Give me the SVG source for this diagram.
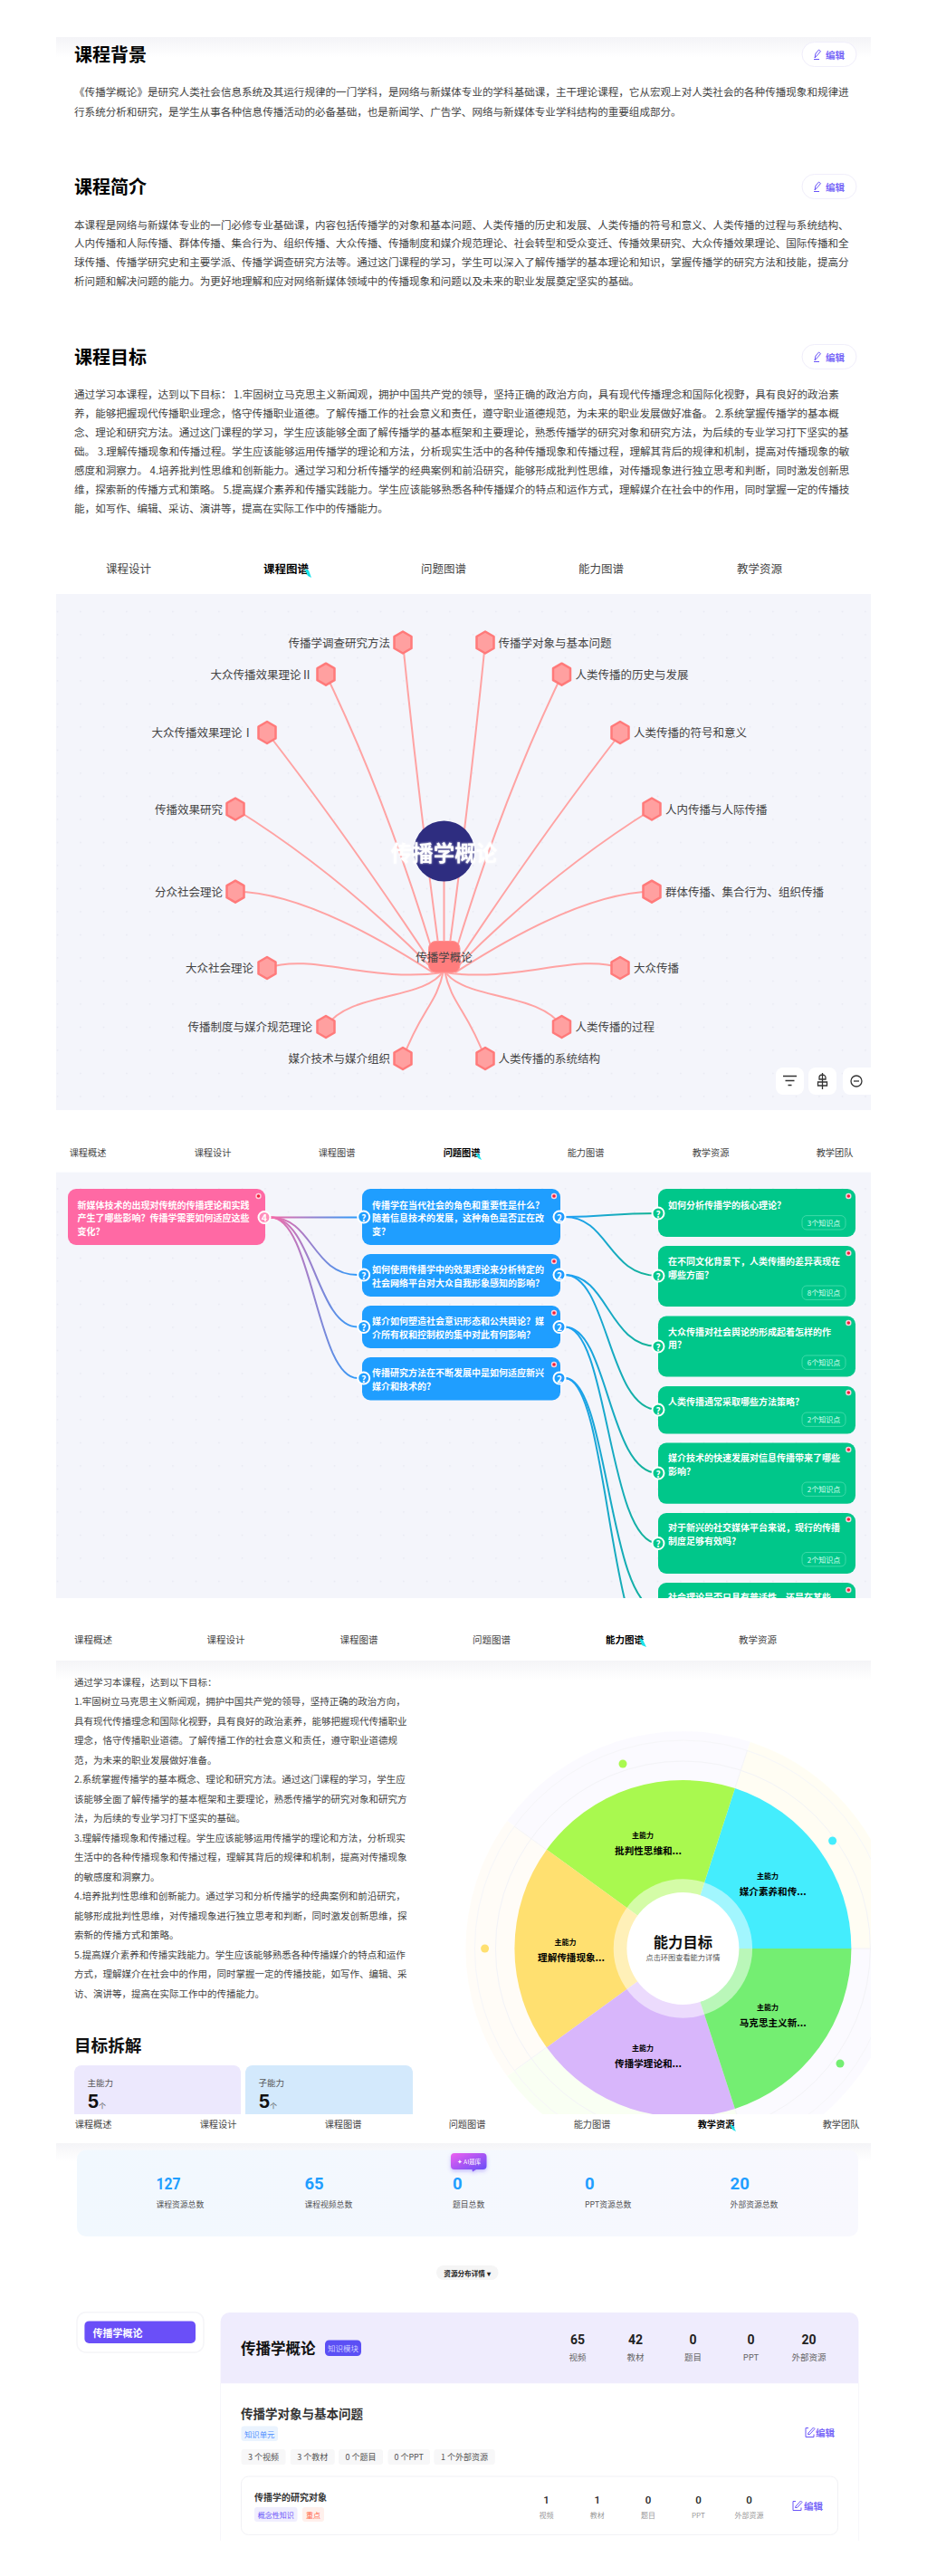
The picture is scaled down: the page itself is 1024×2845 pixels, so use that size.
<svg xmlns="http://www.w3.org/2000/svg" width="1024" height="2845" viewBox="0 0 1024 2845">
<style>
text{font-family:"Noto Sans CJK SC","Noto Sans",sans-serif;dominant-baseline:central;fill:#333}
.h{font-size:20px;font-weight:700;fill:#000}
.p{font-size:11.57px;fill:#444}
.q{font-size:10.5px;fill:#444}
.t1{font-size:12.5px;fill:#444;text-anchor:middle}
.t2{font-size:10.2px;fill:#444;text-anchor:middle}
.on{font-weight:700;fill:#000}
.ed{font-size:10.5px;font-weight:700;fill:#7a6af8}
.gl{font-size:12.5px;fill:#444}
.r{text-anchor:end}
.m{text-anchor:middle}
.n{font-size:10px;font-weight:700;fill:#fff}
.g{font-size:10px;font-weight:700;fill:#fff;text-anchor:middle}
.kp{font-size:8px;fill:#d9fff0;text-anchor:middle}
.ln{fill:none;stroke:#ffa3a3;stroke-width:2}
.lb{fill:none;stroke:url(#bg);stroke-width:2}
.lp{fill:none;stroke:url(#pb);stroke-width:2}
.sl{font-size:8px;font-weight:700;fill:#000;text-anchor:middle}
.sn{font-size:10.6px;font-weight:700;fill:#000;text-anchor:middle}
.sb{font-family:Roboto,"Noto Sans",sans-serif;font-size:18.5px;font-weight:700;fill:#1f9eff}
.sc{font-size:8.8px;fill:#555}
.st{font-family:Roboto,"Noto Sans",sans-serif;font-size:14px;font-weight:700;fill:#222;text-anchor:middle}
.sd{font-size:9.5px;fill:#666;text-anchor:middle}
.st2{font-family:Roboto,"Noto Sans",sans-serif;font-size:11.5px;font-weight:500;fill:#222;text-anchor:middle}
.sd2{font-size:8px;fill:#999;text-anchor:middle}
.ch{font-size:9px;fill:#555;text-anchor:middle}
.i{fill:none;stroke:#333;stroke-width:1.3}
.e{fill:none;stroke:#6a55f8;stroke-width:1}
</style>
<defs>
<pattern id="dots" width="25.5" height="25.5" patternUnits="userSpaceOnUse" x="0" y="0"><circle cx="12.5" cy="12.5" r="0.8" fill="#e2e4ee"/></pattern>
<linearGradient id="fade" x1="0" y1="0" x2="0" y2="1"><stop offset="0" stop-color="#f4f4f7"/><stop offset="1" stop-color="#fff"/></linearGradient>
<linearGradient id="bg" gradientUnits="userSpaceOnUse" x1="620" y1="0" x2="727" y2="0"><stop offset="0" stop-color="#1f9eff"/><stop offset="1" stop-color="#10b58c"/></linearGradient>
<linearGradient id="pb" gradientUnits="userSpaceOnUse" x1="295" y1="0" x2="401" y2="0"><stop offset="0" stop-color="#ff69a4"/><stop offset="1" stop-color="#1f9eff"/></linearGradient>
<linearGradient id="stat" x1="0" y1="0" x2="1" y2="0"><stop offset="0" stop-color="#f1f8fe"/><stop offset="1" stop-color="#f8f8fe"/></linearGradient>
<linearGradient id="ai" x1="0" y1="0" x2="1" y2="1"><stop offset="0" stop-color="#ee5ff0"/><stop offset="1" stop-color="#5f4df8"/></linearGradient>
<polygon id="hex" points="0,-12 9.5,-6.5 9.5,6.5 0,12 -9.5,6.5 -9.5,-6.5" fill="#ffa0a0" stroke="#ff7a7a" stroke-width="2.5" stroke-linejoin="round"/>
<clipPath id="map"><rect x="62" y="1294.4" width="900" height="470.6"/></clipPath>
<clipPath id="wh"><rect x="62" y="1834" width="900" height="501"/></clipPath>
<clipPath id="bot"><rect x="243" y="2632" width="706" height="174"/></clipPath>
<filter id="soft" x="-30%" y="-30%" width="160%" height="180%"><feDropShadow dx="0" dy="2" stdDeviation="2" flood-color="#6a4cf8" flood-opacity=".35"/></filter>
<filter id="sh" x="-20%" y="-40%" width="140%" height="180%"><feDropShadow dx="0" dy="0" stdDeviation="1.2" flood-color="#fff" flood-opacity=".9"/></filter>
</defs>
<rect width="1024" height="2845" fill="#fff"/>

<g id="section-overview">
<rect x="62" y="41" width="900" height="22" fill="url(#fade)"/>
<g id="bg-title"><text class="h" x="82" y="59.5">课程背景</text>
<rect x="886" y="46.5" width="60" height="27" rx="13.5" fill="#fff" stroke="#f0eefb"/><path class="e" d="M899 65.5h6M900 64l1-5 3.5-4 2 1.6-3.5 4.2z"/><text class="ed" x="912" y="60">编辑</text></g>
<text class="p" x="82" y="101">《传播学概论》是研究人类社会信息系统及其运行规律的一门学科，是网络与新媒体专业的学科基础课，主干理论课程，它从宏观上对人类社会的各种传播现象和规律进</text>
<text class="p" x="82" y="122.5">行系统分析和研究，是学生从事各种信息传播活动的必备基础，也是新闻学、广告学、网络与新媒体专业学科结构的重要组成部分。</text>
<g id="intro-title"><text class="h" x="82" y="205.5">课程简介</text>
<rect x="886" y="192.5" width="60" height="27" rx="13.5" fill="#fff" stroke="#f0eefb"/><path class="e" d="M899 211.5h6M900 210l1-5 3.5-4 2 1.6-3.5 4.2z"/><text class="ed" x="912" y="206">编辑</text></g>
<text class="p" x="82" y="247.6">本课程是网络与新媒体专业的一门必修专业基础课，内容包括传播学的对象和基本问题、人类传播的历史和发展、人类传播的符号和意义、人类传播的过程与系统结构、</text>
<text class="p" x="82" y="268.4">人内传播和人际传播、群体传播、集合行为、组织传播、大众传播、传播制度和媒介规范理论、社会转型和受众变迁、传播效果研究、大众传播效果理论、国际传播和全</text>
<text class="p" x="82" y="289.3">球传播、传播学研究史和主要学派、传播学调查研究方法等。通过这门课程的学习，学生可以深入了解传播学的基本理论和知识，掌握传播学的研究方法和技能，提高分</text>
<text class="p" x="82" y="310.2">析问题和解决问题的能力。为更好地理解和应对网络新媒体领域中的传播现象和问题以及未来的职业发展奠定坚实的基础。</text>
<g id="goal-title"><text class="h" x="82" y="393.7">课程目标</text>
<rect x="886" y="380.5" width="60" height="27" rx="13.5" fill="#fff" stroke="#f0eefb"/><path class="e" d="M899 399.5h6M900 398l1-5 3.5-4 2 1.6-3.5 4.2z"/><text class="ed" x="912" y="394">编辑</text></g>
<text class="p" x="82" y="435.4">通过学习本课程，达到以下目标： 1.牢固树立马克思主义新闻观，拥护中国共产党的领导，坚持正确的政治方向，具有现代传播理念和国际化视野，具有良好的政治素</text>
<text class="p" x="82" y="456.3">养，能够把握现代传播职业理念，恪守传播职业道德。了解传播工作的社会意义和责任，遵守职业道德规范，为未来的职业发展做好准备。 2.系统掌握传播学的基本概</text>
<text class="p" x="82" y="477.2">念、理论和研究方法。通过这门课程的学习，学生应该能够全面了解传播学的基本框架和主要理论，熟悉传播学的研究对象和研究方法，为后续的专业学习打下坚实的基</text>
<text class="p" x="82" y="498">础。 3.理解传播现象和传播过程。学生应该能够运用传播学的理论和方法，分析现实生活中的各种传播现象和传播过程，理解其背后的规律和机制，提高对传播现象的敏</text>
<text class="p" x="82" y="519">感度和洞察力。 4.培养批判性思维和创新能力。通过学习和分析传播学的经典案例和前沿研究，能够形成批判性思维，对传播现象进行独立思考和判断，同时激发创新思</text>
<text class="p" x="82" y="540">维，探索新的传播方式和策略。 5.提高媒介素养和传播实践能力。学生应该能够熟悉各种传播媒介的特点和运作方式，理解媒介在社会中的作用，同时掌握一定的传播技</text>
<text class="p" x="82" y="560.8">能，如写作、编辑、采访、演讲等，提高在实际工作中的传播能力。</text>
</g>

<g id="tabs-1">
<text class="t1" x="142" y="627">课程设计</text><text class="t1 on" x="316" y="627">课程图谱</text><text class="t1" x="490" y="627">问题图谱</text><text class="t1" x="664" y="627">能力图谱</text><text class="t1" x="839" y="627">教学资源</text>
<polygon points="336,628 341,630 344,638 340,636" fill="#19e3ea"/>
</g>

<g id="course-graph">
<rect x="62" y="656" width="900" height="570" fill="#f4f5fb"/>
<rect x="62" y="656" width="900" height="570" fill="url(#dots)"/>
<g id="graph-connectors">
<path class="ln" d="M445 709.5Q462 880 488 1072"/>
<path class="ln" d="M360 744.7Q430 890 484 1072"/>
<path class="ln" d="M295 809Q385 925 482 1072"/>
<path class="ln" d="M260 893.5Q375 965 480 1072"/>
<path class="ln" d="M260 984.7Q340 985 478 1074"/>
<path class="ln" d="M295 1069C345 1052 410 1086 490 1074"/>
<path class="ln" d="M360 1134C385 1095 470 1105 490 1072"/>
<path class="ln" d="M445 1169C465 1115 482 1110 490 1072"/>
<path class="ln" d="M536 709.5Q519 880 493 1072"/>
<path class="ln" d="M621 744.7Q551 890 497 1072"/>
<path class="ln" d="M686 809Q596 925 499 1072"/>
<path class="ln" d="M721 893.5Q606 965 501 1072"/>
<path class="ln" d="M721 984.7Q641 985 503 1074"/>
<path class="ln" d="M686 1069C636 1052 571 1086 491 1074"/>
<path class="ln" d="M621 1134C596 1095 511 1105 491 1072"/>
<path class="ln" d="M536 1169C516 1115 499 1110 491 1072"/>
<path class="ln" d="M490.5 973V1040"/>
</g>
<g id="root-center"><ellipse cx="490.5" cy="940" rx="33.5" ry="33.5" fill="#2e2d80"/><text x="490.5" y="941" font-size="23.5" font-weight="700" text-anchor="middle" style="fill:#fff" filter="url(#sh)">传播学概论</text></g>
<g id="root-course"><rect x="473.5" y="1039.5" width="34.5" height="34.5" rx="8" fill="#ff7d7d" stroke="#ff9090"/><text class="gl m" x="490.5" y="1056">传播学概论</text></g>
<g id="n1"><use href="#hex" x="445" y="709.5"/><text class="gl r" x="431" y="709">传播学调查研究方法</text></g>
<g id="n2"><use href="#hex" x="536" y="709.5"/><text class="gl" x="550.5" y="709">传播学对象与基本问题</text></g>
<g id="n3"><use href="#hex" x="360" y="744.7"/><text class="gl r" x="345" y="744.5">大众传播效果理论Ⅱ</text></g>
<g id="n4"><use href="#hex" x="620.5" y="744.7"/><text class="gl" x="635.5" y="744.5">人类传播的历史与发展</text></g>
<g id="n5"><use href="#hex" x="295" y="809"/><text class="gl r" x="280" y="808.5">大众传播效果理论Ⅰ</text></g>
<g id="n6"><use href="#hex" x="685" y="809"/><text class="gl" x="700" y="808.5">人类传播的符号和意义</text></g>
<g id="n7"><use href="#hex" x="260" y="893.5"/><text class="gl r" x="246" y="893">传播效果研究</text></g>
<g id="n8"><use href="#hex" x="720" y="893.5"/><text class="gl" x="735" y="893">人内传播与人际传播</text></g>
<g id="n9"><use href="#hex" x="260" y="984.7"/><text class="gl r" x="246" y="984.5">分众社会理论</text></g>
<g id="n10"><use href="#hex" x="720" y="984.7"/><text class="gl" x="735" y="984.5">群体传播、集合行为、组织传播</text></g>
<g id="n11"><use href="#hex" x="295" y="1069"/><text class="gl r" x="280" y="1068.5">大众社会理论</text></g>
<g id="n12"><use href="#hex" x="685" y="1069"/><text class="gl" x="700" y="1068.5">大众传播</text></g>
<g id="n13"><use href="#hex" x="360" y="1134"/><text class="gl r" x="345" y="1133.5">传播制度与媒介规范理论</text></g>
<g id="n14"><use href="#hex" x="620.5" y="1134"/><text class="gl" x="635.5" y="1133.5">人类传播的过程</text></g>
<g id="n15"><use href="#hex" x="445" y="1169"/><text class="gl r" x="431" y="1168.5">媒介技术与媒介组织</text></g>
<g id="n16"><use href="#hex" x="536" y="1169"/><text class="gl" x="550.5" y="1168.5">人类传播的系统结构</text></g>
<g id="graph-tools">
<rect x="857" y="1179" width="31" height="30" rx="8" fill="#fff"/><path class="i" d="M865 1188.5h15M867.5 1193.5h10M870.5 1198.5h4"/>
<rect x="893" y="1179" width="31" height="30" rx="8" fill="#fff"/><path class="i" d="M908.5 1185v18M905 1190a3.5 3 0 0 1 7 0v2h-7zM903.5 1195h10v4h-10z"/>
<path d="M939 1179h23v30h-23a8 8 0 0 1-8-8v-14a8 8 0 0 1 8-8z" fill="#fff"/><circle class="i" cx="946" cy="1194" r="6"/><path class="i" d="M943 1194h6"/>
</g>
</g>

<g id="tabs-2">
<rect x="0" y="1245" width="1024" height="49" fill="#fff"/>
<text class="t2" x="97" y="1272">课程概述</text><text class="t2" x="235" y="1272">课程设计</text><text class="t2" x="372" y="1272">课程图谱</text><text class="t2 on" x="510" y="1272">问题图谱</text><text class="t2" x="647" y="1272">能力图谱</text><text class="t2" x="785" y="1272">教学资源</text><text class="t2" x="922" y="1272">教学团队</text>
<polygon points="525,1273 529,1275 532,1281 528,1279" fill="#19e3ea"/>
</g>

<g id="problem-map" clip-path="url(#map)">
<rect x="62" y="1294.4" width="900" height="471" fill="#f4f5fb"/>
<rect x="62" y="1294.4" width="900" height="471" fill="url(#dots)"/>
<g id="map-connectors">
<path class="lp" d="M299 1344.5L395 1344.5"/>
<path class="lp" d="M299 1344.5C345 1344.5 345 1408 395 1408"/>
<path class="lp" d="M299 1344.5C345 1344.5 350 1465.5 395 1465.5"/>
<path class="lp" d="M299 1344.5C345 1344.5 350 1522 395 1522"/>
<path class="lb" d="M624 1344C672 1344 672 1340 727 1340"/>
<path class="lb" d="M624 1344C672 1344 672 1409 727 1409"/>
<path class="lb" d="M624 1408C672 1408 672 1487 727 1487"/>
<path class="lb" d="M624 1408C672 1408 672 1557 727 1557"/>
<path class="lb" d="M624 1465.5C672 1465.5 672 1627 727 1627"/>
<path class="lb" d="M624 1465.5C672 1465.5 672 1704.5 727 1704.5"/>
<path class="lb" d="M624 1522C672 1522 672 1777 727 1777"/>
<path class="lb" d="M624 1522C672 1522 672 1832 727 1832"/>
</g>
<g id="q-root"><rect x="75" y="1313" width="218" height="62" rx="9" fill="#ff69a4"/>
<text class="n" x="85.5" y="1330">新媒体技术的出现对传统的传播理论和实践</text><text class="n" x="85.5" y="1344.7">产生了哪些影响？传播学需要如何适应这些</text><text class="n" x="85.5" y="1359">变化？</text>
<circle cx="285.5" cy="1321" r="3.2" fill="#ffd0dd"/><circle cx="285.5" cy="1321" r="1.8" fill="#f01f3a"/>
<circle cx="292" cy="1344.5" r="6.5" fill="#ff8fbb" stroke="#fff" stroke-width="2"/><text class="g" x="292" y="1344.5">4</text></g>
<g id="q-b1"><rect x="400" y="1313" width="219" height="62" rx="9" fill="#1f9eff"/>
<text class="n" x="411" y="1330">传播学在当代社会的角色和重要性是什么？</text><text class="n" x="411" y="1344.7">随着信息技术的发展，这种角色是否正在改</text><text class="n" x="411" y="1359">变？</text>
<circle cx="612" cy="1321" r="3.2" fill="#ffd0dd"/><circle cx="612" cy="1321" r="1.8" fill="#f01f3a"/>
<circle cx="401.7" cy="1344" r="6.5" fill="#1f9eff" stroke="#fff" stroke-width="2"/><text class="g" x="401.7" y="1344">?</text>
<circle cx="618" cy="1344" r="6.5" fill="#1f9eff" stroke="#fff" stroke-width="2"/><text class="g" x="618" y="1344">2</text></g>
<g id="q-b2"><rect x="400" y="1385" width="219" height="47" rx="9" fill="#1f9eff"/>
<text class="n" x="411" y="1401">如何使用传播学中的效果理论来分析特定的</text><text class="n" x="411" y="1416">社会网络平台对大众自我形象感知的影响？</text>
<circle cx="612" cy="1393" r="3.2" fill="#ffd0dd"/><circle cx="612" cy="1393" r="1.8" fill="#f01f3a"/>
<circle cx="401.7" cy="1408" r="6.5" fill="#1f9eff" stroke="#fff" stroke-width="2"/><text class="g" x="401.7" y="1408">?</text>
<circle cx="618" cy="1408" r="6.5" fill="#1f9eff" stroke="#fff" stroke-width="2"/><text class="g" x="618" y="1408">2</text></g>
<g id="q-b3"><rect x="400" y="1442" width="219" height="47" rx="9" fill="#1f9eff"/>
<text class="n" x="411" y="1458">媒介如何塑造社会意识形态和公共舆论？媒</text><text class="n" x="411" y="1473">介所有权和控制权的集中对此有何影响？</text>
<circle cx="612" cy="1450" r="3.2" fill="#ffd0dd"/><circle cx="612" cy="1450" r="1.8" fill="#f01f3a"/>
<circle cx="401.7" cy="1465.5" r="6.5" fill="#1f9eff" stroke="#fff" stroke-width="2"/><text class="g" x="401.7" y="1465.5">?</text>
<circle cx="618" cy="1465.5" r="6.5" fill="#1f9eff" stroke="#fff" stroke-width="2"/><text class="g" x="618" y="1465.5">2</text></g>
<g id="q-b4"><rect x="400" y="1499" width="219" height="47.5" rx="9" fill="#1f9eff"/>
<text class="n" x="411" y="1515.5">传播研究方法在不断发展中是如何适应新兴</text><text class="n" x="411" y="1530">媒介和技术的？</text>
<circle cx="612" cy="1507" r="3.2" fill="#ffd0dd"/><circle cx="612" cy="1507" r="1.8" fill="#f01f3a"/>
<circle cx="401.7" cy="1522" r="6.5" fill="#1f9eff" stroke="#fff" stroke-width="2"/><text class="g" x="401.7" y="1522">?</text>
<circle cx="618" cy="1522" r="6.5" fill="#1f9eff" stroke="#fff" stroke-width="2"/><text class="g" x="618" y="1522">2</text></g>
<g id="q-g1"><rect x="727" y="1313" width="218" height="53" rx="9" fill="#00c78a"/>
<text class="n" x="738" y="1330">如何分析传播学的核心理论？</text>
<rect x="886" y="1342.6" width="48" height="15.4" rx="5" fill="none" stroke="#3ed9a8"/><text class="kp" x="910" y="1350.3">3个知识点</text>
<circle cx="937.3" cy="1321" r="3.2" fill="#ffd0dd"/><circle cx="937.3" cy="1321" r="1.8" fill="#f01f3a"/>
<circle cx="727" cy="1340" r="6.5" fill="#00c78a" stroke="#fff" stroke-width="2"/><text class="g" x="727" y="1340">?</text></g>
<g id="q-g2"><rect x="727" y="1376" width="218" height="67" rx="9" fill="#00c78a"/>
<text class="n" x="738" y="1392">在不同文化背景下，人类传播的差异表现在</text><text class="n" x="738" y="1407">哪些方面？</text>
<rect x="886" y="1420" width="48" height="15.4" rx="5" fill="none" stroke="#3ed9a8"/><text class="kp" x="910" y="1427.7">8个知识点</text>
<circle cx="937.3" cy="1384" r="3.2" fill="#ffd0dd"/><circle cx="937.3" cy="1384" r="1.8" fill="#f01f3a"/>
<circle cx="727" cy="1409" r="6.5" fill="#00c78a" stroke="#fff" stroke-width="2"/><text class="g" x="727" y="1409">?</text></g>
<g id="q-g3"><rect x="727" y="1453.5" width="218" height="67" rx="9" fill="#00c78a"/>
<text class="n" x="738" y="1470">大众传播对社会舆论的形成起着怎样的作</text><text class="n" x="738" y="1484.5">用？</text>
<rect x="886" y="1497" width="48" height="15.4" rx="5" fill="none" stroke="#3ed9a8"/><text class="kp" x="910" y="1504.7">6个知识点</text>
<circle cx="937.3" cy="1461" r="3.2" fill="#ffd0dd"/><circle cx="937.3" cy="1461" r="1.8" fill="#f01f3a"/>
<circle cx="727" cy="1487" r="6.5" fill="#00c78a" stroke="#fff" stroke-width="2"/><text class="g" x="727" y="1487">?</text></g>
<g id="q-g4"><rect x="727" y="1531" width="218" height="52.6" rx="9" fill="#00c78a"/>
<text class="n" x="738" y="1547">人类传播通常采取哪些方法策略？</text>
<rect x="886" y="1560" width="48" height="15.4" rx="5" fill="none" stroke="#3ed9a8"/><text class="kp" x="910" y="1567.7">2个知识点</text>
<circle cx="937.3" cy="1538" r="3.2" fill="#ffd0dd"/><circle cx="937.3" cy="1538" r="1.8" fill="#f01f3a"/>
<circle cx="727" cy="1557" r="6.5" fill="#00c78a" stroke="#fff" stroke-width="2"/><text class="g" x="727" y="1557">?</text></g>
<g id="q-g5"><rect x="727" y="1593.6" width="218" height="67.2" rx="9" fill="#00c78a"/>
<text class="n" x="738" y="1609.5">媒介技术的快速发展对信息传播带来了哪些</text><text class="n" x="738" y="1624">影响？</text>
<rect x="886" y="1637" width="48" height="15.4" rx="5" fill="none" stroke="#3ed9a8"/><text class="kp" x="910" y="1644.7">2个知识点</text>
<circle cx="937.3" cy="1601" r="3.2" fill="#ffd0dd"/><circle cx="937.3" cy="1601" r="1.8" fill="#f01f3a"/>
<circle cx="727" cy="1627" r="6.5" fill="#00c78a" stroke="#fff" stroke-width="2"/><text class="g" x="727" y="1627">?</text></g>
<g id="q-g6"><rect x="727" y="1671" width="218" height="67" rx="9" fill="#00c78a"/>
<text class="n" x="738" y="1686.6">对于新兴的社交媒体平台来说，现行的传播</text><text class="n" x="738" y="1701.4">制度足够有效吗？</text>
<rect x="886" y="1714.5" width="48" height="15.4" rx="5" fill="none" stroke="#3ed9a8"/><text class="kp" x="910" y="1722.2">2个知识点</text>
<circle cx="937.3" cy="1678" r="3.2" fill="#ffd0dd"/><circle cx="937.3" cy="1678" r="1.8" fill="#f01f3a"/>
<circle cx="727" cy="1704.5" r="6.5" fill="#00c78a" stroke="#fff" stroke-width="2"/><text class="g" x="727" y="1704.5">?</text></g>
<g id="q-g7"><rect x="727" y="1748" width="218" height="60" rx="9" fill="#00c78a"/>
<text class="n" x="738" y="1763.5">社会理论是否只具有普适性，还是在某些</text>
<circle cx="937.3" cy="1756" r="3.2" fill="#ffd0dd"/><circle cx="937.3" cy="1756" r="1.8" fill="#f01f3a"/></g>
</g>

<g id="tabs-3">
<text class="q m" x="103" y="1810">课程概述</text><text class="q m" x="249.5" y="1810">课程设计</text><text class="q m" x="396.5" y="1810">课程图谱</text><text class="q m" x="543" y="1810">问题图谱</text><text class="q m on" x="690" y="1810">能力图谱</text><text class="q m" x="837" y="1810">教学资源</text>
<polygon points="706,1809 710,1811 714,1819 709,1817" fill="#19e3ea"/>
</g>

<g id="ability">
<rect x="62" y="1834" width="900" height="22" fill="url(#fade)"/>
<text class="q" x="82" y="1857">通过学习本课程，达到以下目标：</text>
<text class="q" x="82" y="1878.5">1.牢固树立马克思主义新闻观，拥护中国共产党的领导，坚持正确的政治方向，</text>
<text class="q" x="82" y="1900">具有现代传播理念和国际化视野，具有良好的政治素养，能够把握现代传播职业</text>
<text class="q" x="82" y="1921.5">理念，恪守传播职业道德。了解传播工作的社会意义和责任，遵守职业道德规</text>
<text class="q" x="82" y="1943">范，为未来的职业发展做好准备。</text>
<text class="q" x="82" y="1964.6">2.系统掌握传播学的基本概念、理论和研究方法。通过这门课程的学习，学生应</text>
<text class="q" x="82" y="1986">该能够全面了解传播学的基本框架和主要理论，熟悉传播学的研究对象和研究方</text>
<text class="q" x="82" y="2007.5">法，为后续的专业学习打下坚实的基础。</text>
<text class="q" x="82" y="2029">3.理解传播现象和传播过程。学生应该能够运用传播学的理论和方法，分析现实</text>
<text class="q" x="82" y="2050.5">生活中的各种传播现象和传播过程，理解其背后的规律和机制，提高对传播现象</text>
<text class="q" x="82" y="2072">的敏感度和洞察力。</text>
<text class="q" x="82" y="2093.6">4.培养批判性思维和创新能力。通过学习和分析传播学的经典案例和前沿研究，</text>
<text class="q" x="82" y="2115">能够形成批判性思维，对传播现象进行独立思考和判断，同时激发创新思维，探</text>
<text class="q" x="82" y="2136.5">索新的传播方式和策略。</text>
<text class="q" x="82" y="2158">5.提高媒介素养和传播实践能力。学生应该能够熟悉各种传播媒介的特点和运作</text>
<text class="q" x="82" y="2179.5">方式，理解媒介在社会中的作用，同时掌握一定的传播技能，如写作、编辑、采</text>
<text class="q" x="82" y="2201">访、演讲等，提高在实际工作中的传播能力。</text>
<text x="82" y="2257" font-size="18.6" font-weight="700" style="fill:#111">目标拆解</text>
<g id="card-main" clip-path="url(#wh)"><rect x="82" y="2281" width="184" height="70" rx="8" fill="#ece8fd"/><text x="96.5" y="2300" font-size="9.5" style="fill:#555">主能力</text><text x="96.5" y="2320.5" font-size="20" font-weight="700" style="font-family:Inter,sans-serif;fill:#111">5</text><text x="109" y="2325" font-size="8" style="fill:#555">个</text></g>
<g id="card-sub" clip-path="url(#wh)"><rect x="271" y="2281" width="185" height="70" rx="8" fill="#d3e9fc"/><text x="285.5" y="2300" font-size="9.5" style="fill:#555">子能力</text><text x="285.5" y="2320.5" font-size="20" font-weight="700" style="font-family:Inter,sans-serif;fill:#111">5</text><text x="298" y="2325" font-size="8" style="fill:#555">个</text></g>
<g id="wheel" clip-path="url(#wh)">
<g opacity=".5">
<path d="M754.4 2152L994.4 2152A240 240 0 0 0 828.6 1923.7Z" fill="#fffde9"/>
<path d="M754.4 2152L828.6 1923.7A240 240 0 0 0 560.2 2011Z" fill="#f8f6ff"/>
<path d="M754.4 2152L560.2 2011A240 240 0 0 0 560.2 2293Z" fill="#fffaf0"/>
<path d="M754.4 2152L560.2 2293A240 240 0 0 0 828.6 2380.3Z" fill="#f5ffe9"/>
<path d="M754.4 2152L828.6 2380.3A240 240 0 0 0 994.4 2152Z" fill="#f8f6ff"/>
<circle cx="754.4" cy="2152" r="230" fill="none" stroke="#eeeef4"/>
<circle cx="754.4" cy="2152" r="207" fill="none" stroke="#e8e8f0"/>
<path d="M754.4 2152L962 2152M754.4 2152L825.5 1933M754.4 2152L568 2017M754.4 2152L568 2287M754.4 2152L825.5 2371" stroke="#e8e8f0" fill="none"/>
</g>
<path id="s1" d="M754.4 2152L940.4 2152A186 186 0 0 0 811.9 1975.1Z" fill="#44edfd"/>
<path id="s2" d="M754.4 2152L811.9 1975.1A186 186 0 0 0 603.9 2042.7Z" fill="#a9f94f"/>
<path id="s3" d="M754.4 2152L603.9 2042.7A186 186 0 0 0 603.9 2261.3Z" fill="#ffe070"/>
<path id="s4" d="M754.4 2152L603.9 2261.3A186 186 0 0 0 811.9 2328.9Z" fill="#d8b6fb"/>
<path id="s5" d="M754.4 2152L811.9 2328.9A186 186 0 0 0 940.4 2152Z" fill="#74ee72"/>
<circle cx="754.4" cy="2152" r="76.7" fill="#fff" fill-opacity=".5"/>
<circle cx="754.4" cy="2152" r="62" fill="#fff"/>
<text class="m" x="754.4" y="2144" font-size="16.3" font-weight="700" style="fill:#111">能力目标</text>
<text class="m" x="754.4" y="2161" font-size="8.2" style="fill:#555">点击环图查看能力详情</text>
<text class="sl" x="710" y="2026.8">主能力</text><text class="sn" x="716" y="2043">批判性思维和...</text>
<text class="sl" x="848" y="2071.8">主能力</text><text class="sn" x="853.7" y="2088">媒介素养和传...</text>
<text class="sl" x="848" y="2216.4">主能力</text><text class="sn" x="853.7" y="2233.6">马克思主义新...</text>
<text class="sl" x="710" y="2261.4">主能力</text><text class="sn" x="716" y="2278">传播学理论和...</text>
<text class="sl" x="624.4" y="2144.3">主能力</text><text class="sn" x="631" y="2161">理解传播现象...</text>
<circle cx="688" cy="1948" r="4.5" fill="#a9f94f"/>
<circle cx="919.6" cy="2033" r="4.5" fill="#44edfd"/>
<circle cx="535.6" cy="2152" r="4.5" fill="#ffe070"/>
<circle cx="928" cy="2279" r="4.5" fill="#74ee72"/>
</g>
</g>

<g id="tabs-4">
<text class="t2" x="103" y="2345">课程概述</text><text class="t2" x="241" y="2345">课程设计</text><text class="t2" x="379" y="2345">课程图谱</text><text class="t2" x="516" y="2345">问题图谱</text><text class="t2" x="654" y="2345">能力图谱</text><text class="t2 on" x="791" y="2345">教学资源</text><text class="t2" x="929" y="2345">教学团队</text>
<polygon points="806,2346 810,2348 813,2354 809,2352" fill="#19e3ea"/>
</g>

<g id="resources">
<rect x="62" y="2367" width="900" height="20" fill="url(#fade)"/>
<g id="stats"><rect x="85" y="2374.6" width="863" height="95.4" rx="10" fill="url(#stat)"/>
<text class="sb" x="172.4" y="2412.4" textLength="27" lengthAdjust="spacingAndGlyphs">127</text><text class="sc" x="172.4" y="2434.5">课程资源总数</text>
<text class="sb" x="336.4" y="2412.4">65</text><text class="sc" x="336.4" y="2434.5">课程视频总数</text>
<text class="sb" x="500" y="2412.4">0</text><text class="sc" x="500" y="2434.5">题目总数</text>
<text class="sb" x="646" y="2412.4">0</text><text class="sc" x="646" y="2434.5">PPT资源总数</text>
<text class="sb" x="806.6" y="2412.4">20</text><text class="sc" x="806.6" y="2434.5">外部资源总数</text>
</g>
<g id="ai-badge" filter="url(#soft)"><path d="M502 2378H533.5a4 4 0 0 1 4 4V2392a4 4 0 0 1-4 4H526L522 2398.5L521.5 2396H502a4 4 0 0 1-4-4V2382a4 4 0 0 1 4-4z" fill="url(#ai)"/><text x="518" y="2387" font-size="6.5" text-anchor="middle" style="fill:#fff">✦ AI题库</text></g>
<g id="dropdown"><rect x="482" y="2502" width="68.6" height="16" rx="8" fill="#f5f5f5"/><text x="516" y="2510" font-size="7.6" font-weight="700" text-anchor="middle" style="fill:#222">资源分布详情 ▾</text></g>
<g id="side"><rect x="85" y="2553.7" width="140" height="44.3" rx="10" fill="#fff" stroke="#f5f5f8" stroke-width="1.5"/><rect x="93.4" y="2563.4" width="122.6" height="24.6" rx="5" fill="#6a4ff8"/><text x="102.5" y="2576" font-size="11" font-weight="700" style="fill:#fff">传播学概论</text></g>
<g id="module-head"><path d="M253.6 2554H938.4a10 10 0 0 1 10 10V2632.3H243.6V2564a10 10 0 0 1 10-10z" fill="#efecfd"/>
<text x="266" y="2593" font-size="16.5" font-weight="700" style="fill:#111">传播学概论</text>
<rect x="359" y="2584.5" width="40" height="17.5" rx="4.5" fill="#5b4ff5"/><text x="379" y="2593" font-size="8.5" text-anchor="middle" style="fill:#cfd0ff">知识模块</text>
<text class="st" x="638" y="2583.5">65</text><text class="sd" x="638" y="2603">视频</text>
<text class="st" x="702" y="2583.5">42</text><text class="sd" x="702" y="2603">教材</text>
<text class="st" x="765.5" y="2583.5">0</text><text class="sd" x="765.5" y="2603">题目</text>
<text class="st" x="829.5" y="2583.5">0</text><text class="sd" x="829.5" y="2603">PPT</text>
<text class="st" x="893.5" y="2583.5">20</text><text class="sd" x="893.5" y="2603">外部资源</text>
</g>
<g id="module-body" clip-path="url(#bot)">
<path d="M243.6 2632V2806M948.4 2632V2806" stroke="#f6f6fa" fill="none"/>
<text x="266" y="2665" font-size="13.5" font-weight="600" style="fill:#333">传播学对象与基本问题</text>
<rect x="266.5" y="2679.6" width="40.5" height="16.5" rx="3" fill="#eaf3fe"/><text x="286.7" y="2688" font-size="8.4" text-anchor="middle" style="fill:#4d8dff">知识单元</text>
<path class="e" d="M893 2681.5h-3v10h9v-3M893 2687l5.5-6 1.5 1.5-5.5 6h-2z"/><text class="ed" x="901" y="2686">编辑</text>
<rect x="266.5" y="2705" width="49" height="17" rx="3" fill="#f7f7f8"/><text class="ch" x="291" y="2713.5">3 个视频</text>
<rect x="320.7" y="2705" width="49" height="17" rx="3" fill="#f7f7f8"/><text class="ch" x="345.2" y="2713.5">3 个教材</text>
<rect x="374" y="2705" width="49" height="17" rx="3" fill="#f7f7f8"/><text class="ch" x="398.5" y="2713.5">0 个题目</text>
<rect x="428.5" y="2705" width="46.5" height="17" rx="3" fill="#f7f7f8"/><text class="ch" x="451.7" y="2713.5">0 个PPT</text>
<rect x="479.4" y="2705" width="67.3" height="17" rx="3" fill="#f7f7f8"/><text class="ch" x="513" y="2713.5">1 个外部资源</text>
<rect x="266.5" y="2735" width="659" height="64.4" rx="8" fill="#fff" stroke="#f1f1f5"/>
<text x="281" y="2757" font-size="10" font-weight="700" style="fill:#333">传播学的研究对象</text>
<rect x="281" y="2769" width="47.5" height="16" rx="3" fill="#f0eefe"/><text x="304.7" y="2777" font-size="8" text-anchor="middle" style="fill:#6a55f8">概念性知识</text>
<rect x="334" y="2769" width="24" height="16" rx="3" fill="#fff0ec"/><text x="346" y="2777" font-size="8" text-anchor="middle" style="fill:#ff6a4d">重点</text>
<text class="st2" x="603.5" y="2760.6">1</text><text class="sd2" x="603.5" y="2777">视频</text>
<text class="st2" x="659.7" y="2760.6">1</text><text class="sd2" x="659.7" y="2777">教材</text>
<text class="st2" x="716" y="2760.6">0</text><text class="sd2" x="716" y="2777">题目</text>
<text class="st2" x="771.4" y="2760.6">0</text><text class="sd2" x="771.4" y="2777">PPT</text>
<text class="st2" x="827.6" y="2760.6">0</text><text class="sd2" x="827.6" y="2777">外部资源</text>
<path class="e" d="M879 2762.5h-3v10h9v-3M879 2768l5.5-6 1.5 1.5-5.5 6h-2z"/><text class="ed" x="888" y="2767">编辑</text>
</g>
</g>
</svg>
